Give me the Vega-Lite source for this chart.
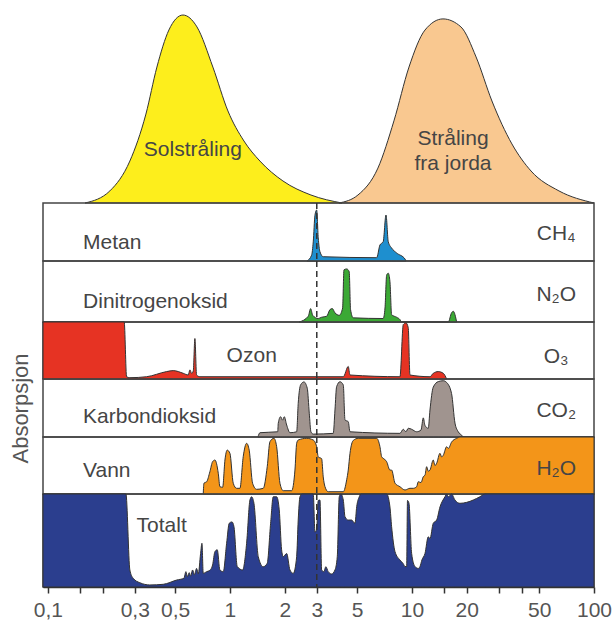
{
  "$schema": "https://vega.github.io/schema/vega-lite/v6.json",
  "padding": {"left": 8, "top": 8, "right": 5, "bottom": 5},
  "spacing": 0,
  "bounds": "flush",
  "datasets": {
    "sun": [
      {"wl": 0.16, "a": 0}, {"wl": 0.219, "a": 0.062}, {"wl": 0.282, "a": 0.215}, {"wl": 0.3455, "a": 0.456},
      {"wl": 0.397, "a": 0.697}, {"wl": 0.462, "a": 0.887}, {"wl": 0.552, "a": 0.964}, {"wl": 0.659, "a": 0.903},
      {"wl": 0.806, "a": 0.697}, {"wl": 0.975, "a": 0.472}, {"wl": 1.194, "a": 0.318}, {"wl": 1.462, "a": 0.215},
      {"wl": 1.955, "a": 0.113}, {"wl": 2.786, "a": 0.041}, {"wl": 4.125, "a": 0}
    ],
    "earth": [
      {"wl": 3.97, "a": 0}, {"wl": 5.05, "a": 0.041}, {"wl": 6.5, "a": 0.179}, {"wl": 7.96, "a": 0.421},
      {"wl": 9.63, "a": 0.697}, {"wl": 11.79, "a": 0.887}, {"wl": 14.8, "a": 0.944}, {"wl": 18.58, "a": 0.903},
      {"wl": 22.5, "a": 0.749}, {"wl": 27.5, "a": 0.523}, {"wl": 35.4, "a": 0.303}, {"wl": 45.1, "a": 0.164},
      {"wl": 64.2, "a": 0.062}, {"wl": 100, "a": 0}
    ],
    "ch4": [
      {"wl": 2.65, "a": 0}, {"wl": 2.81, "a": 0.1}, {"wl": 2.869, "a": 0.33}, {"wl": 2.932, "a": 0.79},
      {"wl": 2.995, "a": 0.88}, {"wl": 3.056, "a": 0.4}, {"wl": 3.123, "a": 0.16}, {"wl": 3.255, "a": 0.074},
      {"wl": 6.4, "a": 0.057}, {"wl": 6.67, "a": 0.276}, {"wl": 6.95, "a": 0.333}, {"wl": 7.2, "a": 0.793},
      {"wl": 7.41, "a": 0.333}, {"wl": 7.73, "a": 0.224}, {"wl": 8.24, "a": 0.138}, {"wl": 9.16, "a": 0.034},
      {"wl": 9.27, "a": 0}
    ],
    "n2o": [
      {"wl": 2.4, "a": 0}, {"wl": 2.693, "a": 0.094}, {"wl": 2.776, "a": 0.22}, {"wl": 2.848, "a": 0.11},
      {"wl": 3.056, "a": 0.057}, {"wl": 3.19, "a": 0.078}, {"wl": 3.4, "a": 0.094}, {"wl": 3.545, "a": 0.203},
      {"wl": 3.65, "a": 0.22}, {"wl": 3.776, "a": 0.15}, {"wl": 3.986, "a": 0.11}, {"wl": 4.16, "a": 0.23},
      {"wl": 4.23, "a": 0.854}, {"wl": 4.38, "a": 0.87}, {"wl": 4.52, "a": 0.826}, {"wl": 4.6, "a": 0.203},
      {"wl": 4.76, "a": 0.068}, {"wl": 6.95, "a": 0.057}, {"wl": 7.11, "a": 0.23}, {"wl": 7.26, "a": 0.77},
      {"wl": 7.41, "a": 0.8}, {"wl": 7.57, "a": 0.66}, {"wl": 7.73, "a": 0.12}, {"wl": 8.24, "a": 0.078},
      {"wl": 8.59, "a": 0.04}, {"wl": 8.77, "a": 0}, {"wl": 15.83, "a": 0}, {"wl": 16.5, "a": 0.15},
      {"wl": 16.86, "a": 0.176}, {"wl": 17.6, "a": 0}
    ],
    "o3": [
      {"wl": 0.094, "a": 1}, {"wl": 0.2625, "a": 1}, {"wl": 0.2706, "a": 0.04}, {"wl": 0.282, "a": 0.023},
      {"wl": 0.3485, "a": 0.04}, {"wl": 0.449, "a": 0.13}, {"wl": 0.488, "a": 0.147}, {"wl": 0.554, "a": 0.1},
      {"wl": 0.59, "a": 0.07}, {"wl": 0.603, "a": 0.16}, {"wl": 0.616, "a": 0.1}, {"wl": 0.629, "a": 0.14},
      {"wl": 0.642, "a": 0.71}, {"wl": 0.656, "a": 0.07}, {"wl": 0.684, "a": 0.04}, {"wl": 4.195, "a": 0.04},
      {"wl": 4.467, "a": 0.22}, {"wl": 4.566, "a": 0.07}, {"wl": 8.59, "a": 0.04}, {"wl": 8.96, "a": 0.956},
      {"wl": 9.27, "a": 0.985}, {"wl": 9.54, "a": 0.9}, {"wl": 9.75, "a": 0.07}, {"wl": 12.56, "a": 0.04},
      {"wl": 13.09, "a": 0.1}, {"wl": 13.95, "a": 0.13}, {"wl": 14.86, "a": 0.1}, {"wl": 15.51, "a": 0}
    ],
    "co2": [
      {"wl": 1.425, "a": 0}, {"wl": 1.462, "a": 0.074}, {"wl": 1.83, "a": 0.09}, {"wl": 1.843, "a": 0.236},
      {"wl": 1.898, "a": 0.35}, {"wl": 1.948, "a": 0.29}, {"wl": 1.988, "a": 0.35}, {"wl": 2.05, "a": 0.207},
      {"wl": 2.137, "a": 0.074}, {"wl": 2.326, "a": 0.09}, {"wl": 2.372, "a": 0.58}, {"wl": 2.446, "a": 0.9},
      {"wl": 2.551, "a": 0.95}, {"wl": 2.66, "a": 0.84}, {"wl": 2.728, "a": 0.41}, {"wl": 2.786, "a": 0.09},
      {"wl": 2.869, "a": 0.05}, {"wl": 3.695, "a": 0.063}, {"wl": 3.776, "a": 0.466}, {"wl": 3.855, "a": 0.867},
      {"wl": 4.023, "a": 0.953}, {"wl": 4.195, "a": 0.897}, {"wl": 4.286, "a": 0.293}, {"wl": 4.467, "a": 0.264},
      {"wl": 4.566, "a": 0.09}, {"wl": 8.59, "a": 0.063}, {"wl": 8.96, "a": 0.133}, {"wl": 9.27, "a": 0.09},
      {"wl": 9.54, "a": 0.15}, {"wl": 9.96, "a": 0.133}, {"wl": 10.61, "a": 0.09}, {"wl": 11.21, "a": 0.12},
      {"wl": 11.54, "a": 0.33}, {"wl": 11.79, "a": 0.2}, {"wl": 12.29, "a": 0.15}, {"wl": 12.56, "a": 0.466},
      {"wl": 13.09, "a": 0.86}, {"wl": 13.95, "a": 0.955}, {"wl": 14.86, "a": 0.97}, {"wl": 15.51, "a": 0.94},
      {"wl": 16.5, "a": 0.75}, {"wl": 17.23, "a": 0.24}, {"wl": 17.96, "a": 0.09}, {"wl": 18.76, "a": 0.03},
      {"wl": 19.15, "a": 0}
    ],
    "h2o": [
      {"wl": 0.7135, "a": 0}, {"wl": 0.72, "a": 0.19}, {"wl": 0.745, "a": 0.215}, {"wl": 0.776, "a": 0.39},
      {"wl": 0.803, "a": 0.567}, {"wl": 0.827, "a": 0.596}, {"wl": 0.863, "a": 0.363}, {"wl": 0.881, "a": 0.128},
      {"wl": 0.912, "a": 0.118}, {"wl": 0.939, "a": 0.596}, {"wl": 0.966, "a": 0.77}, {"wl": 1.0, "a": 0.714},
      {"wl": 1.043, "a": 0.188}, {"wl": 1.088, "a": 0.1}, {"wl": 1.135, "a": 0.1}, {"wl": 1.183, "a": 0.654},
      {"wl": 1.235, "a": 0.889}, {"wl": 1.276, "a": 0.77}, {"wl": 1.332, "a": 0.188}, {"wl": 1.402, "a": 0.082},
      {"wl": 1.524, "a": 0.1}, {"wl": 1.603, "a": 0.479}, {"wl": 1.659, "a": 0.918}, {"wl": 1.745, "a": 0.977},
      {"wl": 1.806, "a": 0.83}, {"wl": 1.883, "a": 0.188}, {"wl": 1.963, "a": 0.058}, {"wl": 2.183, "a": 0.058},
      {"wl": 2.276, "a": 0.42}, {"wl": 2.326, "a": 0.889}, {"wl": 2.372, "a": 0.947}, {"wl": 2.64, "a": 0.977},
      {"wl": 2.869, "a": 0.947}, {"wl": 2.995, "a": 0.83}, {"wl": 3.056, "a": 0.65}, {"wl": 3.19, "a": 0.62},
      {"wl": 3.255, "a": 0.3}, {"wl": 3.327, "a": 0.13}, {"wl": 3.467, "a": 0.04}, {"wl": 4.195, "a": 0.04},
      {"wl": 4.38, "a": 0.25}, {"wl": 4.467, "a": 0.42}, {"wl": 4.566, "a": 0.713}, {"wl": 4.76, "a": 0.94},
      {"wl": 5.07, "a": 0.977}, {"wl": 6.4, "a": 0.977}, {"wl": 6.67, "a": 0.83}, {"wl": 6.82, "a": 0.65},
      {"wl": 6.95, "a": 0.626}, {"wl": 7.26, "a": 0.567}, {"wl": 7.57, "a": 0.42}, {"wl": 7.73, "a": 0.42},
      {"wl": 8.07, "a": 0.19}, {"wl": 8.59, "a": 0.128}, {"wl": 9.16, "a": 0.07}, {"wl": 9.75, "a": 0.1},
      {"wl": 10.17, "a": 0.1}, {"wl": 10.61, "a": 0.128}, {"wl": 10.83, "a": 0.216}, {"wl": 11.21, "a": 0.2},
      {"wl": 11.54, "a": 0.304}, {"wl": 11.79, "a": 0.33}, {"wl": 12.04, "a": 0.479}, {"wl": 12.29, "a": 0.4},
      {"wl": 12.56, "a": 0.42}, {"wl": 13.09, "a": 0.596}, {"wl": 13.38, "a": 0.5}, {"wl": 13.67, "a": 0.54},
      {"wl": 14.25, "a": 0.714}, {"wl": 14.56, "a": 0.65}, {"wl": 14.86, "a": 0.68}, {"wl": 15.51, "a": 0.83},
      {"wl": 15.85, "a": 0.8}, {"wl": 16.5, "a": 0.91}, {"wl": 17.6, "a": 0.977}, {"wl": 18.35, "a": 1},
      {"wl": 100, "a": 1}
    ],
    "total": [
      {"wl": 0.094, "a": 1}, {"wl": 0.2683, "a": 1}, {"wl": 0.282, "a": 0.183}, {"wl": 0.294, "a": 0.094},
      {"wl": 0.32, "a": 0.046}, {"wl": 0.363, "a": 0.022}, {"wl": 0.43, "a": 0.029}, {"wl": 0.51, "a": 0.075},
      {"wl": 0.559, "a": 0.094}, {"wl": 0.573, "a": 0.165}, {"wl": 0.583, "a": 0.11}, {"wl": 0.598, "a": 0.154},
      {"wl": 0.608, "a": 0.118}, {"wl": 0.624, "a": 0.183}, {"wl": 0.637, "a": 0.13}, {"wl": 0.656, "a": 0.2},
      {"wl": 0.67, "a": 0.14}, {"wl": 0.69, "a": 0.36}, {"wl": 0.702, "a": 0.47}, {"wl": 0.7135, "a": 0.147},
      {"wl": 0.745, "a": 0.165}, {"wl": 0.776, "a": 0.18}, {"wl": 0.803, "a": 0.237}, {"wl": 0.827, "a": 0.38},
      {"wl": 0.852, "a": 0.4}, {"wl": 0.881, "a": 0.183}, {"wl": 0.919, "a": 0.165}, {"wl": 0.959, "a": 0.47},
      {"wl": 0.991, "a": 0.685}, {"wl": 1.026, "a": 0.7}, {"wl": 1.052, "a": 0.65}, {"wl": 1.097, "a": 0.22},
      {"wl": 1.174, "a": 0.183}, {"wl": 1.235, "a": 0.47}, {"wl": 1.288, "a": 0.935}, {"wl": 1.316, "a": 0.97},
      {"wl": 1.355, "a": 0.9}, {"wl": 1.431, "a": 0.326}, {"wl": 1.524, "a": 0.218}, {"wl": 1.603, "a": 0.255},
      {"wl": 1.673, "a": 0.685}, {"wl": 1.729, "a": 0.97}, {"wl": 1.806, "a": 0.97}, {"wl": 1.866, "a": 0.83},
      {"wl": 1.923, "a": 0.4}, {"wl": 1.963, "a": 0.326}, {"wl": 2.05, "a": 0.36}, {"wl": 2.137, "a": 0.183},
      {"wl": 2.228, "a": 0.147}, {"wl": 2.326, "a": 0.326}, {"wl": 2.372, "a": 0.72}, {"wl": 2.425, "a": 0.97},
      {"wl": 2.487, "a": 1}, {"wl": 2.869, "a": 1}, {"wl": 2.932, "a": 0.59}, {"wl": 2.995, "a": 0.62},
      {"wl": 3.056, "a": 0.93}, {"wl": 3.123, "a": 0.935}, {"wl": 3.19, "a": 0.183}, {"wl": 3.281, "a": 0.165},
      {"wl": 3.365, "a": 0.218}, {"wl": 3.467, "a": 0.165}, {"wl": 3.62, "a": 0.14}, {"wl": 3.776, "a": 0.183},
      {"wl": 3.888, "a": 0.326}, {"wl": 3.986, "a": 0.97}, {"wl": 4.07, "a": 1}, {"wl": 4.195, "a": 0.935},
      {"wl": 4.286, "a": 0.756}, {"wl": 4.467, "a": 0.72}, {"wl": 4.66, "a": 0.72}, {"wl": 4.864, "a": 0.685},
      {"wl": 4.97, "a": 0.863}, {"wl": 5.134, "a": 0.97}, {"wl": 5.245, "a": 1}, {"wl": 7.26, "a": 1},
      {"wl": 7.57, "a": 0.86}, {"wl": 7.73, "a": 0.65}, {"wl": 8.07, "a": 0.38}, {"wl": 8.59, "a": 0.29},
      {"wl": 8.96, "a": 0.25}, {"wl": 9.16, "a": 0.22}, {"wl": 9.35, "a": 0.22}, {"wl": 9.45, "a": 0.93},
      {"wl": 9.63, "a": 0.9}, {"wl": 9.96, "a": 0.36}, {"wl": 10.39, "a": 0.22}, {"wl": 10.83, "a": 0.2},
      {"wl": 11.07, "a": 0.22}, {"wl": 11.34, "a": 0.29}, {"wl": 11.79, "a": 0.36}, {"wl": 12.29, "a": 0.54},
      {"wl": 12.56, "a": 0.52}, {"wl": 13.09, "a": 0.685}, {"wl": 13.67, "a": 0.72}, {"wl": 14.25, "a": 0.86},
      {"wl": 15.18, "a": 0.97}, {"wl": 15.51, "a": 1}, {"wl": 15.85, "a": 0.97}, {"wl": 16.5, "a": 1},
      {"wl": 17.23, "a": 0.935}, {"wl": 18.35, "a": 0.9}, {"wl": 19.97, "a": 0.91}, {"wl": 21.7, "a": 0.935},
      {"wl": 23.6, "a": 0.97}, {"wl": 25.2, "a": 1}, {"wl": 100, "a": 1}
    ]
  },
  "vconcat": [
    {
      "width": 551, "height": 195,
      "view": {"stroke": null},
      "layer": [
        {"data": {"name": "sun"},
         "mark": {"type": "area", "interpolate": "monotone", "fill": "#FDEE1C", "stroke": "#333333", "strokeWidth": 1},
         "encoding": {
           "x": {"field": "wl", "type": "quantitative", "scale": {"type": "log", "domain": [0.094, 100], "nice": false}, "axis": null},
           "y": {"field": "a", "type": "quantitative", "scale": {"domain": [0, 1], "nice": false}, "axis": null}}},
        {"data": {"name": "earth"},
         "mark": {"type": "area", "interpolate": "monotone", "fill": "#F9C890", "stroke": "#333333", "strokeWidth": 1},
         "encoding": {
           "x": {"field": "wl", "type": "quantitative", "axis": null},
           "y": {"field": "a", "type": "quantitative", "axis": null}}},
        {"data": {"values": [{}]},
         "mark": {"type": "text", "font": "Liberation Sans", "fontSize": 21, "color": "#454545", "align": "center", "baseline": "alphabetic"},
         "encoding": {"x": {"datum": 0.626, "type": "quantitative", "axis": null}, "y": {"datum": 0.241, "type": "quantitative", "axis": null}, "text": {"value": "Solstråling"}}},
        {"data": {"values": [{}]},
         "mark": {"type": "text", "font": "Liberation Sans", "fontSize": 21, "color": "#454545", "align": "center", "baseline": "alphabetic", "lineHeight": 25},
         "encoding": {"x": {"datum": 16.8, "type": "quantitative", "axis": null}, "y": {"datum": 0.297, "type": "quantitative", "axis": null}, "text": {"value": ["Stråling", "fra jorda"]}}}
      ]
    },
    {
      "width": 551, "height": 58,
      "layer": [
        {"data": {"name": "ch4"},
         "mark": {"type": "area", "interpolate": "monotone", "fill": "#1E8FCF", "stroke": "#333333", "strokeWidth": 1},
         "encoding": {
           "x": {"field": "wl", "type": "quantitative", "scale": {"type": "log", "domain": [0.094, 100], "nice": false}, "axis": null},
           "y": {"field": "a", "type": "quantitative", "scale": {"domain": [0, 1], "nice": false}, "axis": null}}},
        {"data": {"values": [{}]},
         "mark": {"type": "text", "font": "Liberation Sans", "fontSize": 21, "color": "#454545", "align": "left", "baseline": "alphabetic"},
         "encoding": {"x": {"datum": 0.156, "type": "quantitative", "axis": null}, "y": {"datum": 0.207, "type": "quantitative", "axis": null}, "text": {"value": "Metan"}}},
        {"data": {"values": [{}]},
         "mark": {"type": "text", "font": "Liberation Sans", "fontSize": 21, "color": "#454545", "align": "center", "baseline": "alphabetic"},
         "encoding": {"x": {"datum": 62, "type": "quantitative", "axis": null}, "y": {"datum": 0.36, "type": "quantitative", "axis": null}, "text": {"value": "CH₄"}}},
        {"data": {"values": [{}]},
         "mark": {"type": "rule", "strokeDash": [6, 4], "stroke": "#333333", "strokeWidth": 1.5},
         "encoding": {"x": {"datum": 3, "type": "quantitative", "axis": null}}}
      ]
    },
    {
      "width": 551, "height": 61,
      "layer": [
        {"data": {"name": "n2o"},
         "mark": {"type": "area", "interpolate": "monotone", "fill": "#3BA935", "stroke": "#333333", "strokeWidth": 1},
         "encoding": {
           "x": {"field": "wl", "type": "quantitative", "scale": {"type": "log", "domain": [0.094, 100], "nice": false}, "axis": null},
           "y": {"field": "a", "type": "quantitative", "scale": {"domain": [0, 1], "nice": false}, "axis": null}}},
        {"data": {"values": [{}]},
         "mark": {"type": "text", "font": "Liberation Sans", "fontSize": 21, "color": "#454545", "align": "left", "baseline": "alphabetic"},
         "encoding": {"x": {"datum": 0.156, "type": "quantitative", "axis": null}, "y": {"datum": 0.23, "type": "quantitative", "axis": null}, "text": {"value": "Dinitrogenoksid"}}},
        {"data": {"values": [{}]},
         "mark": {"type": "text", "font": "Liberation Sans", "fontSize": 21, "color": "#454545", "align": "center", "baseline": "alphabetic"},
         "encoding": {"x": {"datum": 62, "type": "quantitative", "axis": null}, "y": {"datum": 0.34, "type": "quantitative", "axis": null}, "text": {"value": "N₂O"}}},
        {"data": {"values": [{}]},
         "mark": {"type": "rule", "strokeDash": [6, 4], "stroke": "#333333", "strokeWidth": 1.5},
         "encoding": {"x": {"datum": 3, "type": "quantitative", "axis": null}}}
      ]
    },
    {
      "width": 551, "height": 57,
      "layer": [
        {"data": {"name": "o3"},
         "mark": {"type": "area", "interpolate": "monotone", "fill": "#E63323", "stroke": "#333333", "strokeWidth": 1},
         "encoding": {
           "x": {"field": "wl", "type": "quantitative", "scale": {"type": "log", "domain": [0.094, 100], "nice": false}, "axis": null},
           "y": {"field": "a", "type": "quantitative", "scale": {"domain": [0, 1], "nice": false}, "axis": null}}},
        {"data": {"values": [{}]},
         "mark": {"type": "text", "font": "Liberation Sans", "fontSize": 21, "color": "#454545", "align": "left", "baseline": "alphabetic"},
         "encoding": {"x": {"datum": 0.959, "type": "quantitative", "axis": null}, "y": {"datum": 0.306, "type": "quantitative", "axis": null}, "text": {"value": "Ozon"}}},
        {"data": {"values": [{}]},
         "mark": {"type": "text", "font": "Liberation Sans", "fontSize": 21, "color": "#454545", "align": "center", "baseline": "alphabetic"},
         "encoding": {"x": {"datum": 62, "type": "quantitative", "axis": null}, "y": {"datum": 0.28, "type": "quantitative", "axis": null}, "text": {"value": "O₃"}}},
        {"data": {"values": [{}]},
         "mark": {"type": "rule", "strokeDash": [6, 4], "stroke": "#333333", "strokeWidth": 1.5},
         "encoding": {"x": {"datum": 3, "type": "quantitative", "axis": null}}}
      ]
    },
    {
      "width": 551, "height": 58,
      "layer": [
        {"data": {"name": "co2"},
         "mark": {"type": "area", "interpolate": "monotone", "fill": "#A0948F", "stroke": "#333333", "strokeWidth": 1},
         "encoding": {
           "x": {"field": "wl", "type": "quantitative", "scale": {"type": "log", "domain": [0.094, 100], "nice": false}, "axis": null},
           "y": {"field": "a", "type": "quantitative", "scale": {"domain": [0, 1], "nice": false},
                 "axis": {"title": "Absorpsjon", "labels": false, "ticks": false, "domain": false, "grid": false,
                          "titleFontSize": 22, "titleFontWeight": "normal", "titleColor": "#555555", "titleFont": "Liberation Sans",
                          "titlePadding": 11}}}},
        {"data": {"values": [{}]},
         "mark": {"type": "text", "font": "Liberation Sans", "fontSize": 21, "color": "#454545", "align": "left", "baseline": "alphabetic"},
         "encoding": {"x": {"datum": 0.156, "type": "quantitative", "axis": null}, "y": {"datum": 0.236, "type": "quantitative"}, "text": {"value": "Karbondioksid"}}},
        {"data": {"values": [{}]},
         "mark": {"type": "text", "font": "Liberation Sans", "fontSize": 21, "color": "#454545", "align": "center", "baseline": "alphabetic"},
         "encoding": {"x": {"datum": 62, "type": "quantitative", "axis": null}, "y": {"datum": 0.35, "type": "quantitative"}, "text": {"value": "CO₂"}}},
        {"data": {"values": [{}]},
         "mark": {"type": "rule", "strokeDash": [6, 4], "stroke": "#333333", "strokeWidth": 1.5},
         "encoding": {"x": {"datum": 3, "type": "quantitative", "axis": null}}}
      ]
    },
    {
      "width": 551, "height": 57,
      "layer": [
        {"data": {"name": "h2o"},
         "mark": {"type": "area", "interpolate": "monotone", "fill": "#F39519", "stroke": "#333333", "strokeWidth": 1},
         "encoding": {
           "x": {"field": "wl", "type": "quantitative", "scale": {"type": "log", "domain": [0.094, 100], "nice": false}, "axis": null},
           "y": {"field": "a", "type": "quantitative", "scale": {"domain": [0, 1], "nice": false}, "axis": null}}},
        {"data": {"values": [{}]},
         "mark": {"type": "text", "font": "Liberation Sans", "fontSize": 21, "color": "#454545", "align": "left", "baseline": "alphabetic"},
         "encoding": {"x": {"datum": 0.156, "type": "quantitative", "axis": null}, "y": {"datum": 0.293, "type": "quantitative", "axis": null}, "text": {"value": "Vann"}}},
        {"data": {"values": [{}]},
         "mark": {"type": "text", "font": "Liberation Sans", "fontSize": 21, "color": "#454545", "align": "center", "baseline": "alphabetic"},
         "encoding": {"x": {"datum": 62, "type": "quantitative", "axis": null}, "y": {"datum": 0.33, "type": "quantitative", "axis": null}, "text": {"value": "H₂O"}}},
        {"data": {"values": [{}]},
         "mark": {"type": "rule", "strokeDash": [6, 4], "stroke": "#333333", "strokeWidth": 1.5},
         "encoding": {"x": {"datum": 3, "type": "quantitative", "axis": null}}}
      ]
    },
    {
      "width": 551, "height": 93,
      "layer": [
        {"data": {"name": "total"},
         "mark": {"type": "area", "interpolate": "monotone", "fill": "#2B3E8E", "stroke": "#333333", "strokeWidth": 1},
         "encoding": {
           "x": {"field": "wl", "type": "quantitative", "scale": {"type": "log", "domain": [0.094, 100], "nice": false},
                 "axis": {"title": null, "values": [0.1, 0.15, 0.2, 0.3, 0.5, 1, 2, 3, 5, 10, 15, 20, 30, 40, 50, 100],
                          "labelExpr": "indexof([0.15, 0.2, 15, 30, 40], datum.value) >= 0 ? '' : replace(format(datum.value, '~g'), '.', ',')",
                          "labelFont": "Liberation Sans", "labelFontSize": 21, "labelColor": "#555555", "labelPadding": 6,
                          "labelOverlap": false, "labelFlush": false, "grid": false,
                          "domainColor": "#333333", "domainWidth": 1.5, "tickColor": "#333333", "tickWidth": 1.5, "tickSize": 6}},
           "y": {"field": "a", "type": "quantitative", "scale": {"domain": [0, 1], "nice": false}, "axis": null}}},
        {"data": {"values": [{}]},
         "mark": {"type": "text", "font": "Liberation Sans", "fontSize": 21, "color": "#454545", "align": "left", "baseline": "alphabetic"},
         "encoding": {"x": {"datum": 0.307, "type": "quantitative"}, "y": {"datum": 0.588, "type": "quantitative", "axis": null}, "text": {"value": "Totalt"}}},
        {"data": {"values": [{}]},
         "mark": {"type": "rule", "strokeDash": [6, 4], "stroke": "#333333", "strokeWidth": 1.5},
         "encoding": {"x": {"datum": 3, "type": "quantitative"}}}
      ]
    }
  ],
  "config": {
    "view": {"stroke": "#444444", "strokeWidth": 1.5},
    "font": "Liberation Sans"
  }
}
